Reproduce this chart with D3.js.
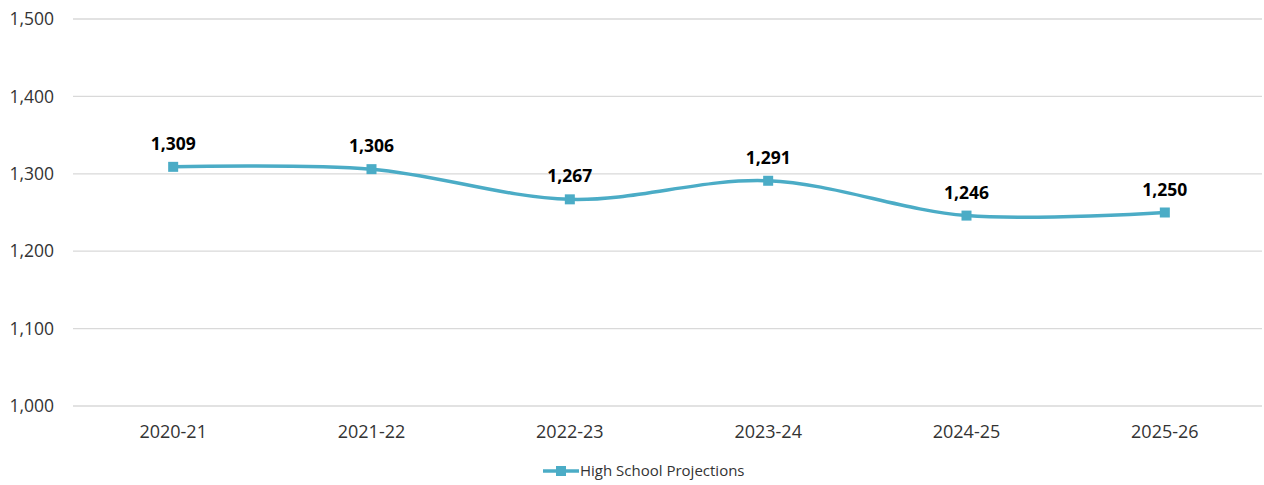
<!DOCTYPE html>
<html>
<head>
<meta charset="utf-8">
<script src="https://cdn.jsdelivr.net/npm/d3@7"></script>
<style>
  html, body { margin: 0; padding: 0; background: #fff; }
  svg { display: block; font-family: "Open Sans", "Noto Sans", sans-serif; }
</style>
</head>
<body>
<svg id="chart" width="1264" height="485"></svg>
<script>
// School years and projected high school enrollment
const years = ["2020-21", "2021-22", "2022-23", "2023-24", "2024-25", "2025-26"];
const projections = [1309, 1306, 1267, 1291, 1246, 1250];
const yTicks = [1000, 1100, 1200, 1300, 1400, 1500];
const seriesName = "High School Projections";

const svg = d3.select("#chart");
const color = "#4BACC6";
const fmt = d3.format(",");

const x = d3.scaleBand().domain(years).range([74, 1264]);
const y = d3.scaleLinear().domain([1000, 1500]).range([406, 19]);

// Horizontal gridlines
svg.append("g")
  .selectAll("line")
  .data(yTicks)
  .join("line")
  .attr("x1", 73).attr("x2", 1262)
  .attr("y1", d => y(d)).attr("y2", d => y(d))
  .attr("stroke", "#d9d9d9").attr("stroke-width", 1.3);

// Y axis labels
const yAxis = svg.append("g")
  .attr("transform", "translate(60,0)")
  .call(d3.axisLeft(y).tickValues(yTicks).tickFormat(fmt).tickSize(0).tickPadding(6));
yAxis.select(".domain").remove();
yAxis.selectAll("text")
  .attr("font-size", 17.5).attr("fill", "#333")
  .attr("font-family", "Open Sans, Noto Sans, sans-serif");

// X axis labels
const xAxis = svg.append("g")
  .attr("transform", "translate(0,422)")
  .call(d3.axisBottom(x).tickSize(0).tickPadding(3));
xAxis.select(".domain").remove();
xAxis.selectAll("text")
  .attr("font-size", 18).attr("fill", "#333")
  .attr("font-family", "Open Sans, Noto Sans, sans-serif");

const cx = d => x(d) + x.bandwidth() / 2;

// Smoothed series line
const line = d3.line()
  .x((d, i) => cx(years[i]))
  .y(d => y(d))
  .curve(d3.curveCardinal.tension(0));

svg.append("path")
  .datum(projections)
  .attr("d", line)
  .attr("fill", "none")
  .attr("stroke", color)
  .attr("stroke-width", 3.5);

// Square markers
svg.append("g")
  .selectAll("rect")
  .data(projections)
  .join("rect")
  .attr("x", (d, i) => cx(years[i]) - 5)
  .attr("y", d => y(d) - 5)
  .attr("width", 10).attr("height", 10)
  .attr("fill", color);

// Value labels
svg.append("g")
  .selectAll("text")
  .data(projections)
  .join("text")
  .attr("x", (d, i) => cx(years[i]))
  .attr("y", d => y(d) - 17)
  .attr("text-anchor", "middle")
  .attr("font-size", 17.5).attr("font-weight", "bold").attr("fill", "#000")
  .text(d => fmt(d));

// Legend
const lg = svg.append("g").attr("transform", "translate(543,471)");
lg.append("line").attr("x1", 0).attr("x2", 36).attr("y1", 0).attr("y2", 0)
  .attr("stroke", color).attr("stroke-width", 3.5);
lg.append("rect").attr("x", 13).attr("y", -5).attr("width", 10).attr("height", 10).attr("fill", color);
lg.append("text").attr("x", 37).attr("y", 0).attr("dy", "0.35em")
  .attr("font-size", 15).attr("fill", "#333").text(seriesName);
</script>
</body>
</html>
